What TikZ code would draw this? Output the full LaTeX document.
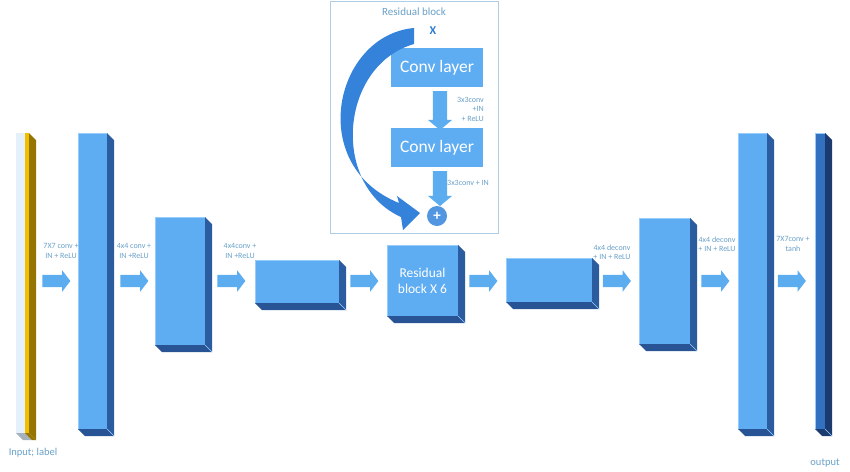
\documentclass[tikz,border=0pt]{standalone}
\usepackage{fontspec}
\setmainfont{Carlito}
\usetikzlibrary{shapes.arrows,calc}
\definecolor{frontcol}{RGB}{94,172,242}
\definecolor{sidecol}{RGB}{44,92,160}
\definecolor{botcol}{RGB}{40,84,150}
\definecolor{edgecol}{RGB}{150,205,250}
\definecolor{arrowcol}{RGB}{92,172,240}
\definecolor{labelcol}{RGB}{105,160,200}
\definecolor{outfront}{RGB}{50,112,192}
\definecolor{outside}{RGB}{26,58,112}
\definecolor{inwhite}{RGB}{228,240,250}
\definecolor{inyellow}{RGB}{242,190,0}
\definecolor{ingold}{RGB}{150,116,0}
\definecolor{ingray}{RGB}{165,178,190}
\definecolor{panelborder}{RGB}{175,205,228}
\definecolor{curvecol}{RGB}{52,130,218}
\definecolor{xcol}{RGB}{45,125,215}
\newcommand\blockbox[8]{% name, x1, y1, x2, y2, front, side, bottom
  \node[face, fill=#6, minimum width={(#4-#2)*1pt}, minimum height={(#5-#3)*1pt}]
    (#1) at ({(#2+#4)/2},{(#3+#5)/2}) {};
  \fill[#7] (#1.north east) -- ++(7,7) -- ([shift={(7,7)}]#1.south east) -- (#1.south east) -- cycle;
  \fill[#8] (#1.south west) -- ([shift={(7,7)}]#1.south west) -- ([shift={(7,7)}]#1.south east) -- (#1.south east) -- cycle;
  \draw[edgecol, line width=0.5pt] (#1.south east) -- ([shift={(7,7)}]#1.south east);
}
\begin{document}
\begin{tikzpicture}[x=1pt,y=-1pt,
  face/.style={draw=edgecol, line width=0.5pt, inner sep=0pt, outer sep=0pt},
  blockarrow/.style={single arrow, fill=arrowcol, draw=none, inner xsep=0pt, inner ysep=6pt,
    minimum height=28pt, single arrow head extend=4.5pt,
    single arrow tip angle=105},
  downarrow/.style={single arrow, fill=arrowcol, draw=none, inner xsep=0pt, inner ysep=7pt,
    single arrow head extend=5pt, single arrow tip angle=100, rotate=-90},
  smalllabel/.style={text=labelcol, font=\fontsize{8}{9.5}\selectfont, align=center, inner sep=0pt},
  convbox/.style={fill=frontcol, draw=none, inner sep=0pt, minimum width=92pt, minimum height=39pt,
    text=white, font=\fontsize{17.5}{20}\selectfont}
]
\useasboundingbox (0,0) rectangle (850,471);

% ---- residual block panel ----
\node[draw=panelborder, line width=1pt, fill=white, minimum width=168pt, minimum height=232pt, inner sep=0pt] (panel) at (414,117) {};
\node[text=labelcol, font=\fontsize{11}{13}\selectfont, inner sep=0pt] (title) at (414,12) {Residual block};
\node[text=xcol, font=\bfseries\fontsize{12}{14}\selectfont, inner sep=0pt] (x) at (433,31) {X};
\node[convbox] (c1) at (437,67.5) {Conv layer};
\node[convbox] (c2) at (437,147.5) {Conv layer};
\node[downarrow, minimum height=39pt] (d1) at (440,107.5) {};
\node[downarrow, minimum height=35pt] (d2) at (440,185.5) {};
\node[smalllabel, align=right, anchor=east] (r1) at (484,109) {3x3conv\\+IN\\+ ReLU};
\node[smalllabel, anchor=west] (r2) at (447,183) {3x3conv + IN};
\node[circle, fill=curvecol!85!white, minimum size=20pt, inner sep=0pt, text=white,
  font=\bfseries\fontsize{15}{15}\selectfont] (plus) at (437,216) {+};
\fill[curvecol] (414,28) .. controls (335,35) and (305,165) .. (399,203)
  -- (397,196) -- (420,213) -- (403,230) -- (401,217)
  .. controls (330,185) and (340,65) .. (414,44) -- cycle;

% ---- input ----
\node[face, draw=none, fill=inwhite, minimum width=9pt, minimum height=300pt] (in0) at (20.5,283) {};
\node[face, draw=none, fill=inyellow, minimum width=4pt, minimum height=300pt] (in1) at (27,283) {};
\fill[ingold] (in1.north east) -- ++(7,7) -- ([shift={(7,7)}]in1.south east) -- (in1.south east) -- cycle;
\fill[ingray] (in0.south west) -- ([shift={(7,7)}]in0.south west) -- ([shift={(7,7)}]in0.south east) -- (in0.south east) -- cycle;
\fill[ingold] (in1.south west) -- ([shift={(7,7)}]in1.south west) -- ([shift={(7,7)}]in1.south east) -- (in1.south east) -- cycle;
\node[text=labelcol, font=\fontsize{10.5}{12}\selectfont, inner sep=0pt] (inlabel) at (33,453) {Input; label};

% ---- encoder / decoder blocks ----
\blockbox{b1}{78}{133}{107}{429}{frontcol}{sidecol}{botcol}
\blockbox{b2}{155}{217}{205}{345}{frontcol}{sidecol}{botcol}
\blockbox{b3}{255}{260}{339}{303}{frontcol}{sidecol}{botcol}
\blockbox{res}{387}{245}{458}{316}{frontcol}{sidecol}{botcol}
\node[text=white, font=\fontsize{13.5}{16}\selectfont, align=center, inner sep=0pt] (restext) at (res) {Residual\\block X 6};
\blockbox{b4}{506}{258}{592}{302}{frontcol}{sidecol}{botcol}
\blockbox{b5}{639}{218}{690}{344}{frontcol}{sidecol}{botcol}
\blockbox{b6}{738}{133}{767}{429}{frontcol}{sidecol}{botcol}
\blockbox{out}{815}{133}{825}{429}{outfront}{outside}{outside}
\node[text=labelcol, font=\fontsize{10.5}{12}\selectfont, inner sep=0pt] (outlabel) at (825,463) {output};

% ---- arrows ----
\node[blockarrow] (a1) at (54,281) {};
\node[blockarrow] (a2) at (132,281) {};
\node[blockarrow] (a3) at (229,281) {};
\node[blockarrow] (a4) at (362,281) {};
\node[blockarrow] (a5) at (481,281) {};
\node[blockarrow] (a6) at (614.5,281) {};
\node[blockarrow] (a7) at (713,281) {};
\node[blockarrow] (a8) at (789.5,281) {};

% ---- labels ----
\node[smalllabel] (l1) at (61,251) {7X7 conv +\\IN + ReLU};
\node[smalllabel] (l2) at (134,251) {4x4 conv +\\IN +ReLU};
\node[smalllabel] (l3) at (240,251) {4x4conv +\\IN +ReLU};
\node[smalllabel] (l6) at (612,252) {4x4 deconv\\+ IN + ReLU};
\node[smalllabel] (l7) at (717,244) {4x4 deconv\\+ IN + ReLU};
\node[smalllabel] (l8) at (793,244) {7X7conv +\\tanh};
\end{tikzpicture}
\end{document}
